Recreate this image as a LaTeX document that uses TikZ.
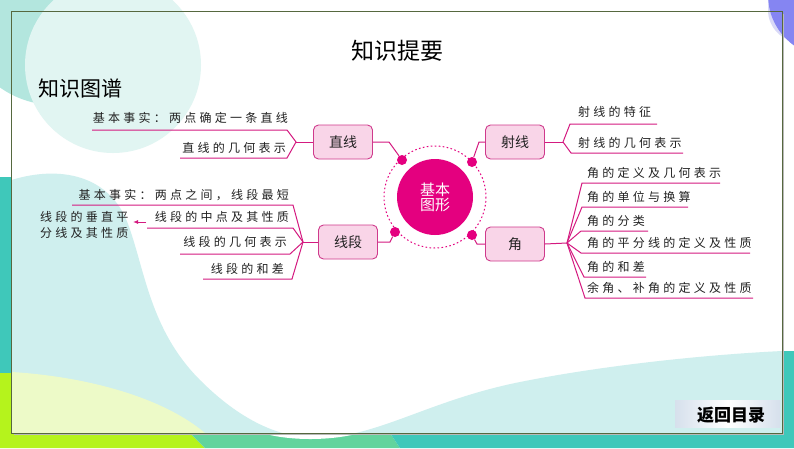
\documentclass[tikz,border=0pt]{standalone}
\usepackage{fontspec}
\setmainfont{Noto Sans CJK SC}
\newfontfamily\lblfont[LetterSpace=27]{Noto Sans CJK SC}
\usetikzlibrary{arrows.meta}
\definecolor{mag}{HTML}{E4007F}
\definecolor{lnc}{HTML}{D41A80}
\definecolor{boxfill}{HTML}{F9D5E8}
\definecolor{boxdraw}{HTML}{CF3A8C}
\definecolor{txt}{HTML}{222222}
\definecolor{paleteal}{HTML}{CFEFEE}
\definecolor{tealA}{HTML}{3FC8BA}
\definecolor{limeA}{HTML}{B5F31C}
\definecolor{mintA}{HTML}{62D49D}
\definecolor{paleyel}{HTML}{EDFAC8}
\definecolor{circA}{HTML}{B3E6DE}
\definecolor{circB}{HTML}{E1F5F2}
\definecolor{frameC}{HTML}{56683F}
\definecolor{bluA}{HTML}{8585F2}
\definecolor{lavA}{HTML}{D9D9F7}
\definecolor{btnC}{HTML}{D6E0EC}
\tikzset{
  mbox/.style={draw=boxdraw, fill=boxfill, rounded corners=5pt, line width=0.9pt,
    minimum width=59pt, minimum height=34pt, inner sep=0pt,
    font=\fontsize{14}{14}\selectfont, text=txt},
  lbl/.style={inner sep=0pt, font=\lblfont\fontsize{12}{12}\selectfont, text=txt},
  br/.style={draw=lnc, line width=1pt},
  dotn/.style={circle, fill=mag, minimum size=10pt, inner sep=0pt},
}
\begin{document}
\begin{tikzpicture}[x=1pt,y=-1pt]
\useasboundingbox (0,0) rectangle (794,448);
\fill[white] (0,0) rectangle (794,448);
% ---- background decoration
\fill[circA] (55,10) circle (95);
\fill[circB] (113,65) circle (88);
\fill[tealA] (0,177) rectangle (11.5,373);
\fill[limeA] (0,373) rectangle (11.5,448);
\fill[limeA] (0,433) -- (190,433) -- (205,448) -- (0,448) -- cycle;
\fill[mintA] (190,433) -- (390,433) -- (400,448) -- (205,448) -- cycle;
\fill[tealA] (390,433) -- (794,433) -- (794,448) -- (400,448) -- cycle;
\fill[tealA] (782,351) rectangle (794,448);
\fill[paleteal] (11.5,180) .. controls (60,165) and (110,175) .. (128,224)
  .. controls (145,270) and (150,330) .. (200,380)
  .. controls (240,420) and (280,439) .. (320,438)
  .. controls (380,436) and (430,400) .. (520,382)
  .. controls (600,366) and (700,355) .. (782,351) -- (782,433) -- (11.5,433) -- cycle;
\fill[paleyel] (11.5,372) .. controls (80,376) and (160,395) .. (205,433) -- (11.5,433) -- cycle;
\fill[white] (262,433) .. controls (290,441) and (330,441) .. (360,433) -- cycle;
\fill[lavA] (800,10) circle (32);
\fill[bluA] (830,-5) circle (62);
% frame
\draw[gray!55, line width=1.2pt] (783.5,14) -- (783.5,434.5) -- (14,434.5);
\draw[frameC, line width=0.8pt] (11.5,11.5) rectangle (782,433);
% ---- titles
\node[font=\fontsize{23}{23}\selectfont, inner sep=0pt] (title) at (397.5,51) {知识提要};
\node[font=\fontsize{21}{21}\selectfont, inner sep=0pt, anchor=west] (sub) at (38,88) {知识图谱};
% ---- back button
\node[shade, left color=btnC, right color=btnC, middle color=white, minimum width=105pt,
  minimum height=27pt, inner sep=0pt] (backbox) at (727.5,413.5) {};
\node[font=\bfseries\fontsize{17}{17}\selectfont, inner sep=0pt] (back) at (731,415) {返回目录};
% ---- core
\node[circle, fill=mag, minimum size=76pt, inner sep=0pt, text=white, align=center,
  font=\fontsize{15}{15}\selectfont] (core) at (435,197) {基本\\图形};
\draw[mag, line width=1pt, dash pattern=on 1.6pt off 2.4pt] (core.center) circle (51);
\node[dotn] (d1) at (402,160) {};
\node[dotn] (d2) at (472,162) {};
\node[dotn] (d3) at (395,232) {};
\node[dotn] (d4) at (472,235) {};
% ---- category boxes
\node[mbox] (zx) at (343,142) {直线};
\node[mbox] (sx) at (515,142) {射线};
\node[mbox] (xd) at (348,242) {线段};
\node[mbox] (jiao) at (515,244) {角};
\coordinate (k1) at (389,142);
\coordinate (k2) at (479,142);
\coordinate (k3) at (390,242);
\coordinate (k4) at (477,244);
\draw[br] (zx.east) -- (k1) -- (d1);
\draw[br] (sx.west) -- (k2) -- (d2);
\draw[br] (xd.east) -- (k3) -- (d3);
\draw[br] (jiao.west) -- (k4) -- (d4);
% ---- 直线 branch
\coordinate (j1) at (296,142);
\coordinate (u1a) at (92,130);  \coordinate (u1b) at (287,130);
\coordinate (u2a) at (180,158); \coordinate (u2b) at (287,158);
\draw[br] (zx.west) -- (j1);
\draw[br] (u1a) -- (u1b) -- (j1) -- (u2b) -- (u2a);
\node[lbl, anchor=base east] (t1) at (288,122.6) {基本事实：两点确定一条直线};
\node[lbl, anchor=base east] (t2) at (286,152.6) {直线的几何表示};
% ---- 射线 branch
\coordinate (j2) at (563,142);
\coordinate (u3a) at (570,124); \coordinate (u3b) at (657,124);
\coordinate (u4a) at (571,153); \coordinate (u4b) at (683,153);
\draw[br] (sx.east) -- (j2);
\draw[br] (u3b) -- (u3a) -- (j2) -- (u4a) -- (u4b);
\node[lbl, anchor=base west] (t3) at (578,116.6) {射线的特征};
\node[lbl, anchor=base west] (t4) at (578,147.6) {射线的几何表示};
% ---- 角 branch
\coordinate (j3) at (567,243);
\draw[br] (jiao.east) -- (j3);
\foreach \n/\xa/\xb/\y/\t in {5/582/720/183/角的定义及几何表示, 6/582/688/207/角的单位与换算,
  7/581/648/231/角的分类, 8/581/750/253/角的平分线的定义及性质, 9/584/646/277/角的和差,
  10/585/753/298/{余角、补角的定义及性质}} {
  \coordinate (ua\n) at (\xa,\y);
  \coordinate (ub\n) at (\xb,\y);
  \draw[br] (j3) -- (ua\n) -- (ub\n);
  \node[lbl, anchor=base west] (t\n) at (587,\y-5.4) {\t};
}
% ---- 线段 branch
\coordinate (j4) at (303,242);
\draw[br] (xd.west) -- (j4);
\foreach \n/\xa/\xb/\y/\t in {11/72/293/205/{基本事实：两点之间，线段最短}, 12/147/293/228/线段的中点及其性质,
  13/180/290/254/线段的几何表示, 14/203/292/279/线段的和差} {
  \coordinate (ua\n) at (\xa,\y);
  \coordinate (ub\n) at (\xb,\y);
  \draw[br] (j4) -- (ub\n) -- (ua\n);
}
\node[lbl, anchor=base east] (t11) at (289,199.6) {基本事实：两点之间，线段最短};
\node[lbl, anchor=base east] (t12) at (289,221.6) {线段的中点及其性质};
\node[lbl, anchor=base east] (t13) at (287,246.6) {线段的几何表示};
\node[lbl, anchor=base east] (t14) at (284,273.6) {线段的和差};
\node[lbl, anchor=west, align=left, font=\lblfont\fontsize{12}{16}\selectfont] (vp) at (40,225) {线段的垂直平\\分线及其性质};
\coordinate (ar1) at (146,222);
\coordinate (ar2) at (133,222);
\draw[br, -{Latex[length=5pt,width=4pt]}] (ar1) -- (ar2);
\end{tikzpicture}
\end{document}
